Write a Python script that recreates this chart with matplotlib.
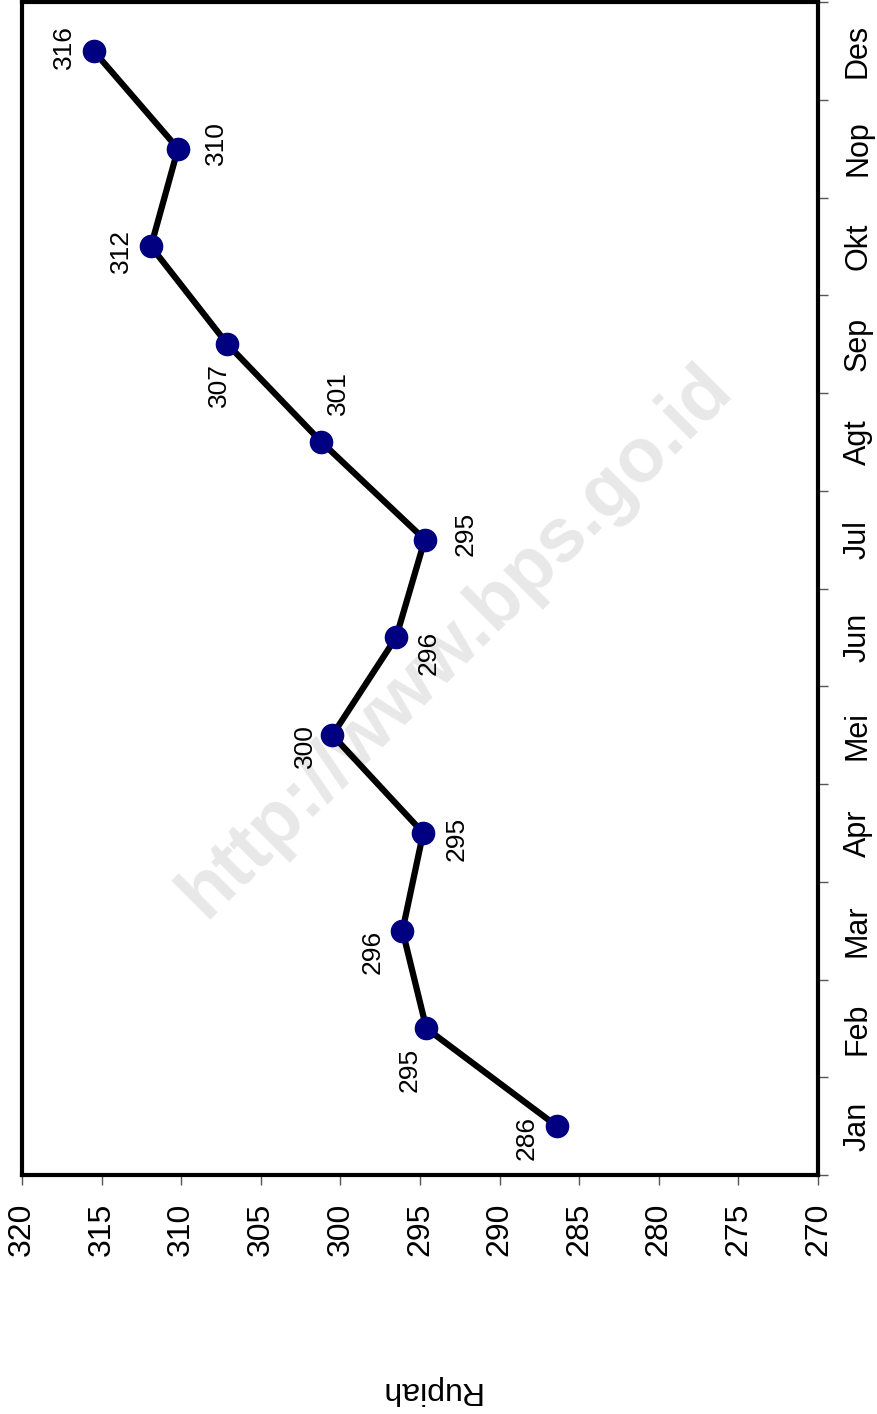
import matplotlib.pyplot as plt

months = ["Jan", "Feb", "Mar", "Apr", "Mei", "Jun", "Jul", "Agt", "Sep", "Okt", "Nop", "Des"]
harga = [286.4, 294.6, 296.1, 294.8, 300.5, 296.5, 294.7, 301.2, 307.1, 311.9, 310.2, 315.5]
label_harga = ["286", "295", "296", "295", "300", "296", "295", "301", "307", "312", "310", "316"]
rupiah_ticks = [320, 315, 310, 305, 300, 295, 290, 285, 280, 275, 270]

# label offsets in screen pixels (x right, y down)
offsets = [(-30, 12), (-17, 42), (-30, 21), (33, 6), (-27, 11), (33, 16),
           (41, -6), (17, -49), (-8, 41), (-30, 5), (38, -6), (-30, -4)]

plt.rcParams['font.family'] = ['Liberation Sans', 'DejaVu Sans']

fig = plt.figure(figsize=(8.77, 14.14), dpi=100)
ax = fig.add_axes([22 / 877, 1 - 1175 / 1414, (818 - 22) / 877, (1175 - 2) / 1414])

pos = list(range(len(months)))
ax.text(0.545, 0.455, "http://www.bps.go.id", transform=ax.transAxes, rotation=45,
        fontsize=55, fontweight='heavy', color='#e8e8e8', ha='center', va='center', zorder=0)

ax.plot(harga, pos, color='black', lw=4.5, zorder=2)
ax.plot(harga, pos, 'o', color='#000080', markersize=16, zorder=3)

for x, y, t, (dx, dy) in zip(harga, pos, label_harga, offsets):
    ax.annotate(t, (x, y), xytext=(dx * 0.72, -dy * 0.72), textcoords='offset points',
                ha='center', va='center', rotation=90, fontsize=19)

ax.set_xlim(320, 270)
ax.set_ylim(-0.5, 11.5)
ax.set_xticks(rupiah_ticks)
ax.set_xticklabels([str(v) for v in rupiah_ticks], rotation=90, fontsize=23)
ax.tick_params(axis='x', direction='out', length=7, width=1, color='#555555', pad=13)

ax.yaxis.tick_right()
ax.set_yticks(pos)
ax.set_yticklabels(months, rotation=90, fontsize=22, va='center')
ax.set_yticks([p - 0.5 for p in range(len(months) + 1)], minor=True)
ax.tick_params(axis='y', which='major', length=0, pad=18)
ax.tick_params(axis='y', which='minor', direction='out', length=7, width=1, color='#555555')

for s in ax.spines.values():
    s.set_linewidth(3)

fig.text(430 / 877, 1 - 1390 / 1414, "Rupiah", rotation=180, fontsize=23, ha='center', va='center')

fig.savefig("out.png", dpi=100)
